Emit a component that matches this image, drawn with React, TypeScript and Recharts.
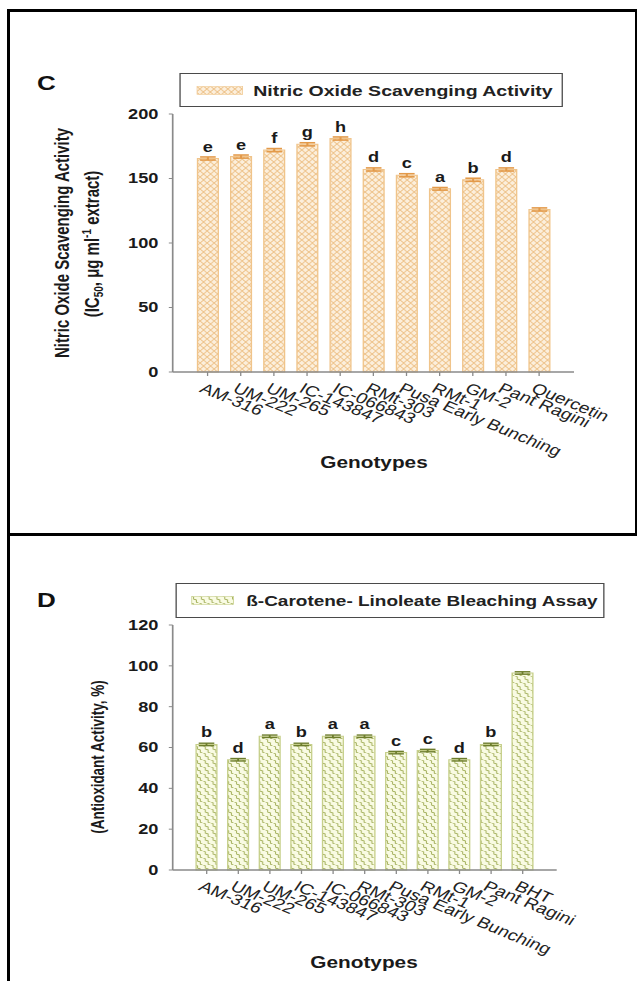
import React from "react";
import { BarChart, Bar, XAxis, YAxis, ErrorBar, LabelList, Legend } from "recharts";

// figure is horizontally stretched, so charts are drawn narrow and scaled in x
const S = 1.3;
const px = (x: number) => x / S;
const FONT = "'Liberation Sans', Arial, Helvetica, sans-serif";

const genotypes = [
  "AM-316",
  "UM-222",
  "UM-265",
  "IC-143847",
  "IC-066843",
  "RMt-303",
  "Pusa Early Bunching",
  "RMt-1",
  "GM-2",
  "Pant Ragini",
];

// panel C: nitric oxide scavenging (IC50)
const noNames = [...genotypes, "Quercetin"];
const noValues = [165.5, 167, 172, 176.5, 181, 157, 152.5, 142, 149, 157, 126];
const noErrors = [1.2, 1.2, 1.2, 1.2, 1.2, 1.2, 1.2, 1, 1.2, 1.2, 1.2];
const noLetters = ["e", "e", "f", "g", "h", "d", "c", "a", "b", "d", ""];
const noTicks = [0, 50, 100, 150, 200];

// panel D: beta-carotene linoleate bleaching
const bcNames = [...genotypes, "BHT"];
const bcValues = [61.5, 54, 65.5, 61.5, 65.5, 65.5, 57.5, 58.5, 54, 61.5, 96.5];
const bcErrors = [0.6, 0.6, 0.6, 0.6, 0.6, 0.6, 0.6, 0.6, 0.6, 0.6, 0.6];
const bcLetters = ["b", "d", "a", "b", "a", "a", "c", "c", "d", "b", ""];
const bcTicks = [0, 20, 40, 60, 80, 100, 120];

const noData = noNames.map((name, i) => ({
  name,
  value: noValues[i],
  err: noErrors[i],
  letter: noLetters[i],
}));
const bcData = bcNames.map((name, i) => ({
  name,
  value: bcValues[i],
  err: bcErrors[i],
  letter: bcLetters[i],
}));

const SlantTick = (props: any) => {
  const { x, y, payload } = props;
  return (
    <text
      x={x - 2}
      y={y}
      dy="0.71em"
      transform={`rotate(28, ${x - 2}, ${y})`}
      textAnchor="start"
      fontSize={15}
      fontFamily={FONT}
      fill="#222"
    >
      {payload.value}
    </text>
  );
};

const yTick = { fontSize: 14, fontWeight: 700, fill: "#1a1a1a", fontFamily: FONT };

const LegendBox = ({ pattern, stroke, label, swatchLeft, swatchW, gap, fontSize }: any) => (
  <div
    style={{
      boxSizing: "border-box",
      width: "100%",
      height: "100%",
      border: "1.3px solid #4a4a4a",
      display: "flex",
      alignItems: "center",
      background: "#fff",
    }}
  >
    <svg width={swatchW} height={9} style={{ marginLeft: swatchLeft, display: "block" }}>
      <rect x={0.5} y={0.5} width={swatchW - 1} height={8} fill={`url(#${pattern})`} stroke={stroke} strokeWidth={0.6} />
    </svg>
    <span
      style={{
        marginLeft: gap,
        fontFamily: FONT,
        fontWeight: 700,
        fontSize,
        color: "#222",
        whiteSpace: "nowrap",
      }}
    >
      {label}
    </span>
  </div>
);

const yLabelC = () => (
  <g fontFamily={FONT} fontWeight={700} fontSize={15} fill="#1a1a1a">
    <text x={53} y={243} transform="rotate(-90, 53, 243)" textAnchor="middle">
      Nitric Oxide Scavenging Activity
    </text>
    <text x={76} y={244} transform="rotate(-90, 76, 244)" textAnchor="middle">
      (IC
      <tspan fontSize={10} dy={3}>
        50
      </tspan>
      <tspan dy={-3}>,  μg ml</tspan>
      <tspan fontSize={10} dy={-6}>
        -1
      </tspan>
      <tspan dy={6}> extract)</tspan>
    </text>
  </g>
);

const xLabelC = () => (
  <text x={px(374)} y={468} textAnchor="middle" fontFamily={FONT} fontWeight={700} fontSize={16} fill="#1a1a1a">
    Genotypes
  </text>
);

const yLabelD = () => (
  <text
    x={80}
    y={221}
    transform="rotate(-90, 80, 221)"
    textAnchor="middle"
    fontFamily={FONT}
    fontWeight={700}
    fontSize={13.5}
    fill="#1a1a1a"
  >
    (Antioxidant Activity, %)
  </text>
);

const xLabelD = () => (
  <text x={px(364)} y={432} textAnchor="middle" fontFamily={FONT} fontWeight={700} fontSize={16} fill="#1a1a1a">
    Genotypes
  </text>
);

const panelLetter = (text: string, top: number) => (
  <div
    style={{
      position: "absolute",
      left: 28.5,
      top,
      fontFamily: FONT,
      fontWeight: 700,
      fontSize: 20,
      lineHeight: "20px",
      color: "#111",
    }}
  >
    {text}
  </div>
);

const letterStyle = { fontFamily: FONT, fontWeight: 700, fontSize: 14, fill: "#1a1a1a" };

const W = 490;

const App = () => {
  return (
    <div style={{ position: "absolute", left: 0, top: 0, width: 637, height: 981, background: "#fff" }}>
      <div style={{ position: "absolute", left: 7, top: 9, width: 3, height: 972, background: "#000" }} />
      <div style={{ position: "absolute", left: 7, top: 9, width: 630, height: 3, background: "#000" }} />
      <div style={{ position: "absolute", left: 7, top: 533, width: 630, height: 3, background: "#000" }} />
      <div style={{ position: "absolute", left: 635, top: 9, width: 2, height: 527, background: "#000" }} />

      {/* panel C */}
      <div
        style={{
          position: "absolute",
          left: 0,
          top: 0,
          width: W,
          height: 533,
          transform: `scaleX(${S})`,
          transformOrigin: "0 0",
        }}
      >
        {panelLetter("C", 73)}
        <BarChart
          width={W}
          height={533}
          data={noData}
          margin={{ top: 114, right: W - px(574), bottom: 52, left: px(172.7) - 40 }}
          barSize={16}
        >
          <defs>
            <pattern id="hatchC" patternUnits="userSpaceOnUse" width={5.4} height={6}>
              <rect width={5.4} height={6} fill="#fcefdc" />
              <path d="M0,0 L5.4,6 M5.4,0 L0,6" stroke="#ecbd80" strokeWidth={0.8} />
            </pattern>
          </defs>
          <Legend
            layout="horizontal"
            verticalAlign="middle"
            align="center"
            wrapperStyle={{ left: px(180), top: 73, width: px(563) - px(180), height: 34 }}
            content={() => (
              <LegendBox
                pattern="hatchC"
                stroke="#f0c890"
                label="Nitric Oxide Scavenging Activity"
                swatchLeft={px(195) - px(180)}
                swatchW={px(242) - px(195)}
                gap={px(252) - px(242)}
                fontSize={15}
              />
            )}
          />
          <XAxis
            dataKey="name"
            interval={0}
            height={109}
            tick={<SlantTick />}
            tickSize={4}
            tickMargin={6}
            padding={{ left: px(18.3), right: px(18.3) }}
            axisLine={{ stroke: "#8a8a8a", strokeWidth: 1.3 }}
            tickLine={{ stroke: "#8a8a8a" }}
            label={xLabelC}
          />
          <YAxis
            width={40}
            domain={[0, 200]}
            ticks={noTicks}
            interval={0}
            tickSize={3}
            tickMargin={8}
            tick={yTick}
            axisLine={{ stroke: "#8a8a8a", strokeWidth: 1.3 }}
            tickLine={{ stroke: "#8a8a8a" }}
            label={yLabelC}
          />
          <Bar dataKey="value" fill="url(#hatchC)" stroke="#f0c48a" strokeWidth={1} isAnimationActive={false}>
            <ErrorBar dataKey="err" width={6} stroke="#e39a4a" strokeWidth={1.6} direction="y" />
            <LabelList dataKey="letter" position="top" offset={7} style={letterStyle} />
          </Bar>
        </BarChart>
      </div>

      {/* panel D */}
      <div
        style={{
          position: "absolute",
          left: 0,
          top: 536,
          width: W,
          height: 445,
          transform: `scaleX(${S})`,
          transformOrigin: "0 0",
        }}
      >
        {panelLetter("D", 54)}
        <BarChart
          width={W}
          height={445}
          data={bcData}
          margin={{ top: 89, right: W - px(556.7), bottom: 11, left: px(172.7) - 40 }}
          barSize={16}
        >
          <defs>
            <pattern id="waveD" patternUnits="userSpaceOnUse" width={6} height={7}>
              <rect width={6} height={7} fill="#f9fbe3" />
              <path
                d="M0.5,0.5 C3.5,0 0.5,3.5 3,3.5 C5.5,3.5 2.5,7 5.5,6.5"
                fill="none"
                stroke="#a4b05c"
                strokeWidth={0.8}
              />
            </pattern>
          </defs>
          <Legend
            layout="horizontal"
            verticalAlign="middle"
            align="center"
            wrapperStyle={{ left: px(176), top: 47, width: px(604) - px(176), height: 35 }}
            content={() => (
              <LegendBox
                pattern="waveD"
                stroke="#c6cf8a"
                label="ß-Carotene- Linoleate Bleaching Assay"
                swatchLeft={px(190) - px(176)}
                swatchW={px(233) - px(190)}
                gap={px(245) - px(233)}
                fontSize={14.6}
              />
            )}
          />
          <XAxis
            dataKey="name"
            interval={0}
            height={100}
            tick={<SlantTick />}
            tickSize={4}
            tickMargin={6}
            padding={{ left: px(18.2), right: px(18.2) }}
            axisLine={{ stroke: "#8a8a8a", strokeWidth: 1.3 }}
            tickLine={{ stroke: "#8a8a8a" }}
            label={xLabelD}
          />
          <YAxis
            width={40}
            domain={[0, 120]}
            ticks={bcTicks}
            interval={0}
            tickSize={3}
            tickMargin={8}
            tick={yTick}
            axisLine={{ stroke: "#8a8a8a", strokeWidth: 1.3 }}
            tickLine={{ stroke: "#8a8a8a" }}
            label={yLabelD}
          />
          <Bar dataKey="value" fill="url(#waveD)" stroke="#c6cf8a" strokeWidth={1} isAnimationActive={false}>
            <ErrorBar dataKey="err" width={6} stroke="#6d7d2c" strokeWidth={1.4} direction="y" />
            <LabelList dataKey="letter" position="top" offset={7} style={letterStyle} />
          </Bar>
        </BarChart>
      </div>
    </div>
  );
};

export default App;
